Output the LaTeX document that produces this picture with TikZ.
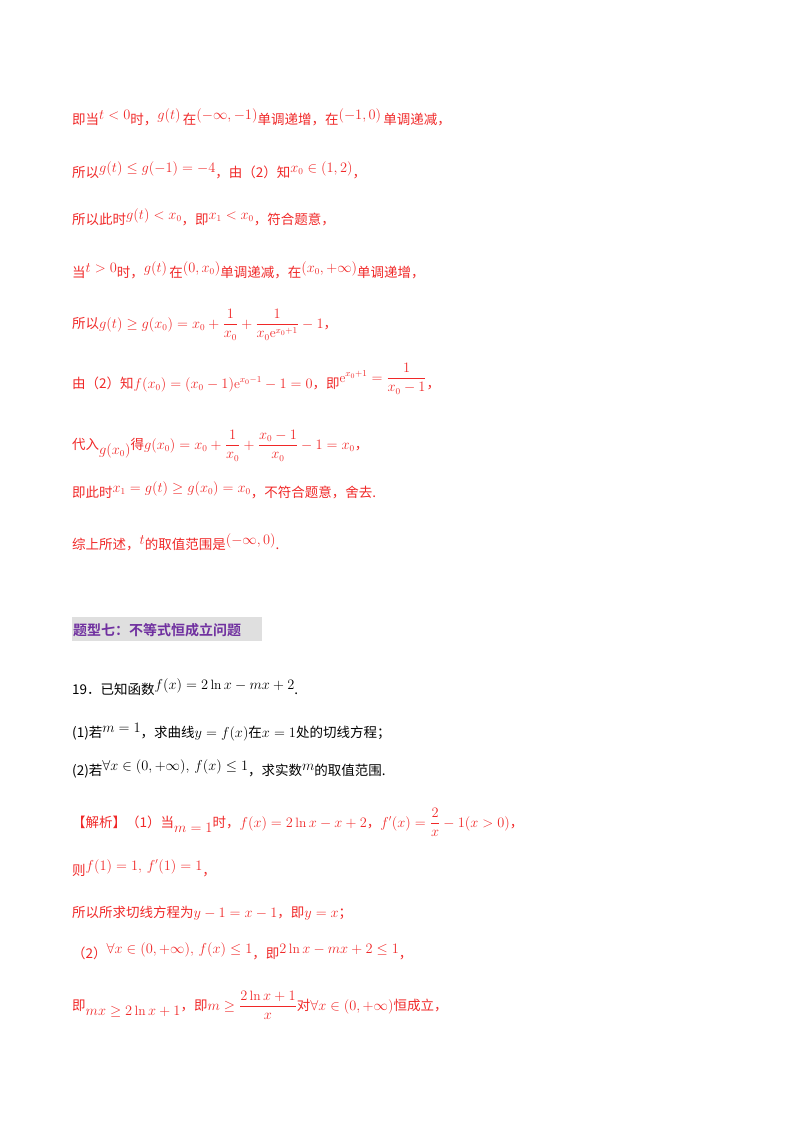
\documentclass[tikz,border=0pt]{standalone}
\usepackage{amsmath}
\usepackage{fontspec}
\newfontfamily\cjk{Noto Sans CJK SC}
\newfontfamily\cjkb{Noto Sans CJK SC}[BoldFont={* Bold}]
\definecolor{rd}{RGB}{240,40,40}
\definecolor{pp}{RGB}{112,48,160}
\newcommand{\upm}[1]{\raisebox{5pt}{$#1$}}
\newcommand{\dnm}[1]{\raisebox{-5pt}{$#1$}}
\begin{document}
\begin{tikzpicture}[x=1pt,y=1pt,
  ln/.style={anchor=base west,inner sep=0pt,font=\fontsize{13.5}{16}\selectfont\cjk,text=rd},
  lk/.style={ln,text=black}]
\useasboundingbox (0,0) rectangle (800,-1132);
\node[ln] (l1) at (72,-124) {即当\upm{t<0}时，\upm{g(t)}\,在\upm{(-\infty,-1)}单调递增，在\upm{(-1,0)}\,单调递减，};
\node[ln] (l2) at (72,-177) {所以\upm{g(t)\le g(-1)=-4}，由（2）知\upm{x_0\in(1,2)}，};
\node[ln] (l3) at (72,-224) {所以此时\upm{g(t)<x_0}，即\upm{x_1<x_0}，符合题意，};
\node[ln] (l4) at (72,-277) {当\upm{t>0}时，\upm{g(t)}\,在\upm{(0,x_0)}单调递减，在\upm{(x_0,+\infty)}单调递增，};
\node[ln] (l5) at (72,-328) {所以$g(t)\ge g(x_0)=x_0+\dfrac{1}{x_0}+\dfrac{1}{x_0\mathrm{e}^{x_0+1}}-1$，};
\node[ln] (l6) at (72,-388) {由（2）知$f(x_0)=(x_0-1)\mathrm{e}^{x_0-1}-1=0$，即\raisebox{6pt}{$\mathrm{e}^{x_0+1}=\dfrac{1}{x_0-1}$}，};
\node[ln] (l7) at (72,-449) {代入\dnm{g(x_0)}得$g(x_0)=x_0+\dfrac{1}{x_0}+\dfrac{x_0-1}{x_0}-1=x_0$，};
\node[ln] (l8) at (72,-497) {即此时\upm{x_1=g(t)\ge g(x_0)=x_0}，不符合题意，舍去.};
\node[ln] (l9) at (72,-549) {综上所述，\upm{t}的取值范围是\upm{(-\infty,0)}.};
\fill[gray!25] (72,-617) rectangle (262,-641);
\node[ln,text=pp,font=\fontsize{14}{16}\selectfont\cjkb\bfseries] (h) at (73,-635) {题型七：不等式恒成立问题};
\node[lk] (q) at (72,-694) {19．已知函数\upm{f(x)=2\ln x-mx+2}.};
\node[lk] (q1) at (72,-737) {(1)若\upm{m=1}，求曲线$y=f(x)$在$x=1$处的切线方程；};
\node[lk] (q2) at (72,-775) {(2)若\upm{\forall x\in(0,+\infty),\,f(x)\le1}，求实数\upm{m}的取值范围.};
\node[ln] (s1) at (72,-827) {【解析】（1）当\dnm{m=1}时，$f(x)=2\ln x-x+2$，$f'(x)=\dfrac{2}{x}-1(x>0)$，};
\node[ln] (s2) at (72,-875) {则\upm{f(1)=1,\,f'(1)=1}，};
\node[ln] (s3) at (72,-917) {所以所求切线方程为$y-1=x-1$，即$y=x$；};
\node[ln] (s4) at (72,-958) {（2）\upm{\forall x\in(0,+\infty),\,f(x)\le1}，即\upm{2\ln x-mx+2\le1}，};
\node[ln] (s5) at (72,-1010) {即\dnm{mx\ge2\ln x+1}，即$m\ge\dfrac{2\ln x+1}{x}$对$\forall x\in(0,+\infty)$恒成立，};
\end{tikzpicture}
\end{document}
